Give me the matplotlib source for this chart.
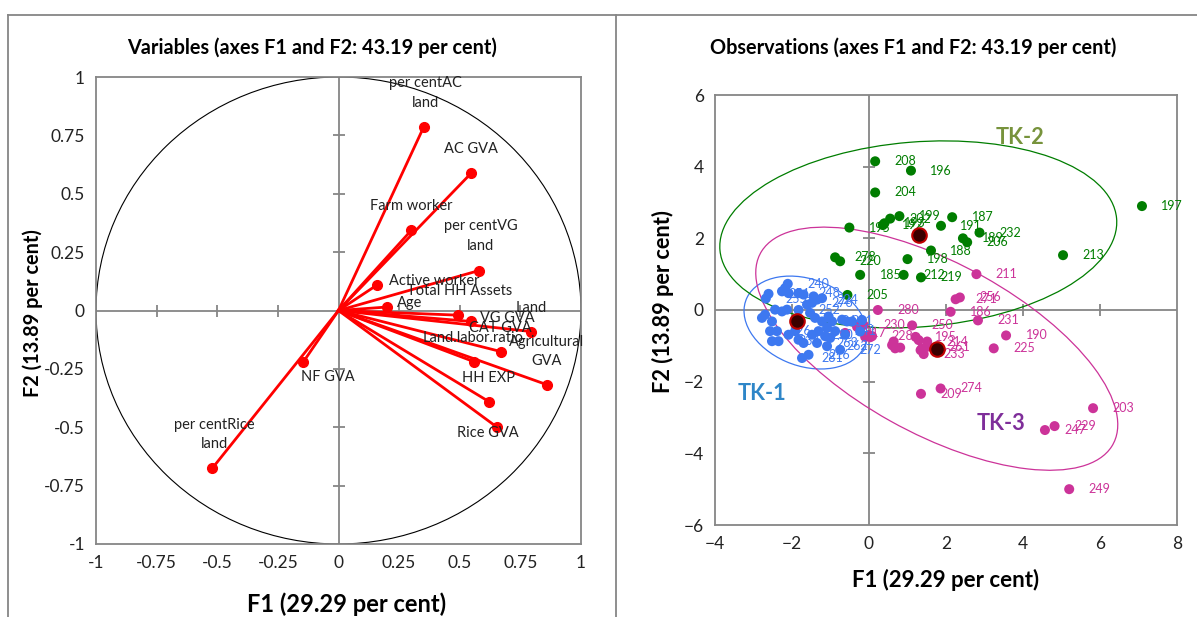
import matplotlib
matplotlib.use("Agg")
import matplotlib.pyplot as plt
from matplotlib.patches import Ellipse, Circle
from matplotlib.lines import Line2D

plt.rcParams['font.family'] = ['Lato', 'DejaVu Sans']

# ---- variables (correlation circle) ----
var_names = ["per centAC\nland", "AC GVA", "Farm worker", "per centVG\nland", "Active worker",
             "Age", "Total HH Assets", "VG GVA", "Land", "Land.labor.ratio", "CAT GVA",
             "Agricultural\nGVA", "HH EXP", "Rice GVA", "NF GVA", "per centRice\nland"]
var_f1 = [0.351, 0.547, 0.300, 0.579, 0.160, 0.202, 0.494, 0.548, 0.794, 0.670, 0.558,
          0.860, 0.620, 0.654, -0.145, -0.520]
var_f2 = [0.785, 0.588, 0.343, 0.171, 0.110, 0.015, -0.020, -0.047, -0.090, -0.176, -0.219,
          -0.318, -0.390, -0.500, -0.220, -0.675]
# label positions (centre of text)
var_lx = [0.359, 0.547, 0.300, 0.587, 0.396, 0.294, 0.498, 0.698, 0.796, 0.556, 0.667,
          0.858, 0.620, 0.617, -0.044, -0.512]
var_ly = [0.932, 0.693, 0.449, 0.319, 0.127, 0.032, 0.084, -0.032, 0.012, -0.117, -0.073,
          -0.176, -0.289, -0.525, -0.284, -0.532]

# ---- observations ----
tk2_x = [0.16, 1.09, 0.16, 7.09, 0.79, 0.55, 0.40, 0.36, -0.51, 2.16, 1.87, 2.87, 2.44, 2.55,
         1.61, 5.04, -0.88, -0.75, 1.00, -0.23, 0.90, 1.35, -0.56]
tk2_y = [4.15, 3.89, 3.28, 2.90, 2.62, 2.55, 2.42, 2.37, 2.30, 2.59, 2.35, 2.16, 2.00, 1.89,
         1.66, 1.53, 1.47, 1.36, 1.42, 0.98, 0.98, 0.91, 0.42]
tk2_lab = ["208", "196", "204", "197", "199", "202", "193", "192", "195", "187", "191", "232",
           "189", "206", "188", "213", "278", "220", "198", "185", "212", "219", "205"]

tk3_x = [2.79, 2.36, 2.25, 0.23, 2.12, 2.83, 1.12, -0.14, 3.56, 3.24, 1.21, 1.51, 1.55, 1.42,
         0.08, -0.62, 1.35, 1.86, 5.82, 4.82, 4.57, 5.20, -0.31, -0.10, -0.01, 0.64, 0.60,
         0.68, 0.81, 1.29, 1.38, 1.34, 0.03]
tk3_y = [1.00, 0.35, 0.30, 0.00, -0.05, -0.29, -0.43, -0.42, -0.71, -1.07, -0.75, -0.88, -1.02,
         -1.23, -0.73, -0.64, -2.34, -2.19, -2.74, -3.24, -3.35, -5.00, -0.47, -0.75, -0.70,
         -0.88, -0.98, -1.07, -1.05, -0.84, -1.07, -1.12, -0.76]
tk3_lab = ["211", "256", "271", "280", "186", "231", "250", "230", "190", "225", "195", "214",
           "261", "233", "228", "217", "209", "274", "203", "229", "247", "249", "", "", "",
           "", "", "", "", "", "", "", ""]

tk1_x = [-2.11, -2.18, -2.61, -2.68, -2.26, -2.09, -1.83, -1.70, -1.44, -1.35, -1.22, -1.48,
         -2.44, -2.70, -2.78, -2.52, -2.26, -2.13, -2.57, -2.39, -2.35, -2.52, -2.09, -1.92,
         -1.83, -1.70, -1.57, -1.74, -1.53, -1.40, -1.22, -1.05, -0.96, -1.09, -1.31, -1.48,
         -1.14, -1.01, -1.35, -1.09, -0.75, -0.70, -0.57, -0.44, -0.88, -0.62, -1.61, -0.18,
         -0.23, -1.83]
tk1_y = [0.73, 0.61, 0.45, 0.32, 0.52, 0.47, 0.47, 0.43, 0.38, 0.29, 0.33, 0.20,
         0.01, -0.13, -0.22, -0.32, -0.04, 0.01, -0.59, -0.59, -0.87, -0.87, -0.69, -0.59,
         -0.83, -0.92, -1.25, -1.34, -0.08, -0.22, -0.32, -0.18, -0.32, -0.50, -0.59, -0.69,
         -0.73, -0.78, -0.92, -1.01, -1.11, -0.27, -0.32, -0.32, -0.59, -0.69, 0.15, -0.28,
         -0.60, 0.00]
tk1_lab = ["240", "", "251", "255", "", "", "248", "", "", "224", "", "276",
           "", "", "", "", "", "", "226", "", "234", "", "", "",
           "", "", "216", "281", "", "", "244", "", "221", "", "", "210",
           "", "", "263", "262", "272", "", "", "", "241", "", "", "",
           "", "252"]

centroids_x = [-1.87, 1.30, 1.77]
centroids_y = [-0.32, 2.09, -1.10]

# ellipses: centre x, centre y, width, height, angle
ell_tk1 = (-1.65, -0.35, 2 * 1.67, 2 * 1.20, -25)
ell_tk2 = (1.28, 2.11, 2 * 5.17, 2 * 2.58, 5)
ell_tk3 = (1.76, -1.08, 2 * 5.30, 2 * 2.35, -31)

green = "#007D00"
magenta = "#CC3399"
blue = "#3D78F0"
grey = "#868686"

fig = plt.figure(figsize=(11.97, 6.17), dpi=100)

# frame lines of the sheet
fig.add_artist(Line2D([8 / 1197, 1], [1 - 15 / 617, 1 - 15 / 617], color=grey, lw=1.3))
fig.add_artist(Line2D([8 / 1197, 8 / 1197], [0, 1 - 15 / 617], color=grey, lw=1.3))
fig.add_artist(Line2D([616 / 1197, 616 / 1197], [0, 1 - 15 / 617], color=grey, lw=1.3))

# ================= left: variables =================
ax1 = fig.add_axes([96 / 1197, 1 - 544 / 617, 485 / 1197, 467 / 617])
ax1.set_xlim(-1, 1)
ax1.set_ylim(-1, 1)
ax1.axhline(0, color=grey, lw=1.3, zorder=1)
ax1.axvline(0, color=grey, lw=1.3, zorder=1)
ticks1 = [-1, -0.75, -0.5, -0.25, 0, 0.25, 0.5, 0.75, 1]
inner1 = [t for t in ticks1 if t not in (-1, 0, 1)]
ax1.plot(inner1, [0] * len(inner1), ls="none", marker="|", ms=8, mew=1.3, color=grey, zorder=1)
ax1.plot([0] * len(inner1), inner1, ls="none", marker="_", ms=8, mew=1.3, color=grey, zorder=1)
ax1.add_patch(Circle((0, 0), 1, fill=False, color="black", lw=0.8, zorder=2))
for x, y in zip(var_f1, var_f2):
    ax1.plot([0, x], [0, y], color="#FF0000", lw=2, zorder=3)
ax1.plot(var_f1, var_f2, "o", color="#FF0000", ms=7, zorder=4)
for name, x, y in zip(var_names, var_lx, var_ly):
    ax1.text(x, y, name, ha="center", va="center", fontsize=10.5, color="#222222",
             linespacing=1.5, zorder=5)
ax1.set_xticks(ticks1)
ax1.set_yticks(ticks1)
ax1.set_xticklabels(["-1", "-0.75", "-0.5", "-0.25", "0", "0.25", "0.5", "0.75", "1"])
ax1.set_yticklabels(["-1", "-0.75", "-0.5", "-0.25", "0", "0.25", "0.5", "0.75", "1"])
ax1.tick_params(length=0, labelsize=12.5, pad=8, colors="#222222")
for s in ax1.spines.values():
    s.set_color(grey)
    s.set_linewidth(1.3)

fig.text(312 / 1197, 1 - 48 / 617, "Variables (axes F1 and F2: 43.19 per cent)",
         ha="center", va="center", fontsize=14.3, fontweight="bold")
fig.text(347 / 1197, 1 - 604 / 617, "F1 (29.29 per cent)", ha="center", va="center",
         fontsize=17, fontweight="bold")
fig.text(33 / 1197, 1 - 313 / 617, "F2 (13.89 per cent)", ha="center", va="center",
         fontsize=14.3, fontweight="bold", rotation=90)

# ================= right: observations =================
ax2 = fig.add_axes([715 / 1197, 1 - 525 / 617, 462 / 1197, 430 / 617])
ax2.set_xlim(-4, 8)
ax2.set_ylim(-6, 6)
ax2.axhline(0, color=grey, lw=1.3, zorder=1)
ax2.axvline(0, color=grey, lw=1.3, zorder=1)
xt2 = [-4, -2, 0, 2, 4, 6, 8]
yt2 = [-6, -4, -2, 0, 2, 4, 6]
ax2.plot([t for t in xt2 if t not in (-4, 0, 8)], [0] * 4, ls="none", marker="|", ms=8,
         mew=1.3, color=grey, zorder=1)
ax2.plot([0] * 4, [t for t in yt2 if t not in (-6, 0, 6)], ls="none", marker="_", ms=8,
         mew=1.3, color=grey, zorder=1)

for (cx, cy, w, h, a), c in zip([ell_tk1, ell_tk2, ell_tk3], [blue, green, magenta]):
    ax2.add_patch(Ellipse((cx, cy), w, h, angle=a, fill=False, color=c, lw=0.9, zorder=2))

for xs, ys, labs, c in [(tk3_x, tk3_y, tk3_lab, magenta), (tk2_x, tk2_y, tk2_lab, green),
                        (tk1_x, tk1_y, tk1_lab, blue)]:
    ax2.scatter(xs, ys, s=52, color=c, edgecolors="none", zorder=3)
    for x, y, lab in zip(xs, ys, labs):
        if lab:
            ax2.annotate(lab, (x, y), xytext=(14, 0), textcoords="offset points",
                         ha="left", va="center", fontsize=9, color=c, zorder=4)

ax2.scatter(centroids_x, centroids_y, s=110, color="#3A0000", edgecolors="#C00000",
            linewidths=1.5, zorder=5)

ax2.text(3.93, 4.80, "TK-2", color="#77933C", fontsize=15.7, fontweight="bold",
         ha="center", va="center")
ax2.text(-2.77, -2.32, "TK-1", color="#2E86C8", fontsize=15.7, fontweight="bold",
         ha="center", va="center")
ax2.text(3.42, -3.16, "TK-3", color="#7F2E9A", fontsize=15.7, fontweight="bold",
         ha="center", va="center")

ax2.set_xticks(xt2)
ax2.set_yticks(yt2)
ax2.tick_params(length=0, labelsize=12.5, pad=8, colors="#222222")
for s in ax2.spines.values():
    s.set_color(grey)
    s.set_linewidth(1.3)

fig.text(913 / 1197, 1 - 48 / 617, "Observations (axes F1 and F2: 43.19 per cent)",
         ha="center", va="center", fontsize=14.3, fontweight="bold")
fig.text(946 / 1197, 1 - 580 / 617, "F1 (29.29 per cent)", ha="center", va="center",
         fontsize=16, fontweight="bold")
fig.text(663 / 1197, 1 - 302 / 617, "F2 (13.89 per cent)", ha="center", va="center",
         fontsize=15.7, fontweight="bold", rotation=90)

fig.savefig("out.png", dpi=100)
